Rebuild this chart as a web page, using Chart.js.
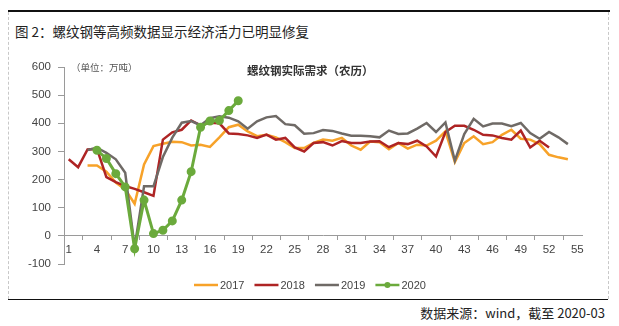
<!DOCTYPE html>
<html>
<head>
<meta charset="utf-8">
<script src="https://cdn.jsdelivr.net/npm/chart.js@4.4.1/dist/chart.umd.min.js"></script>
<style>
    body { margin: 0; width: 619px; height: 326px; background: #fff; position: relative; overflow: hidden;
           font-family: "Noto Sans CJK SC", "Liberation Sans", sans-serif; }
    .top-line { position: absolute; left: 8px; top: 10px; width: 602px; height: 0; border-top: 2px solid #111; }
    .bottom-line { position: absolute; left: 8px; top: 299px; width: 600px; height: 0; border-top: 1.5px solid #111; }
    .side { position: absolute; top: 12px; height: 287px; width: 0; border-left: 1px dashed #c8c8c8; }
    .title { position: absolute; left: 15px; top: 21px; font-size: 13.5px; color: #222; white-space: nowrap; }
    .source { position: absolute; right: 14px; top: 303px; font-size: 13px; color: #222; white-space: nowrap; }
    .unit { position: absolute; left: 71px; top: 60px; font-size: 9.5px; color: #555; white-space: nowrap; }
    .subtitle { position: absolute; left: 247px; top: 62px; font-size: 11.5px; font-weight: bold; color: #333; white-space: nowrap; }
    #wrap { position: absolute; left: 0; top: 0; width: 619px; height: 300px; }
</style>
</head>
<body>
<div class="top-line"></div>
<div class="side" style="left:8px"></div>
<div class="side" style="left:608px"></div>
<div class="bottom-line"></div>
<div class="title">图 2：螺纹钢等高频数据显示经济活力已明显修复</div>
<div class="source">数据来源：wind，截至 2020-03</div>
<div id="wrap"><canvas id="steelChart"></canvas></div>
<div class="unit">（单位：万吨）</div>
<div class="subtitle">螺纹钢实际需求（农历）</div>

<script>
    // week numbers (lunar calendar) 1..55
    const weeks = Array.from({ length: 55 }, (_, i) => String(i + 1));

    const y2017 = [null, null, 250, 250, 228, 189, 165, 114, 254, 319,
        327, 334, 333, 321, 324, 316, 350, 386, 395, 371,
        354, 359, 350, 333, 312, 312, 330, 342, 338, 348,
        321, 306, 335, 333, 308, 330, 310, 324, 321, 338,
        371, 262, 330, 354, 326, 333, 359, 377, 345, 342,
        326, 288, 279, 272, null];

    const y2018 = [272, 244, 307, 309, 209, 191, 177, 167, 155, 142,
        342, 368, 377, 410, 393, 402, 400, 364, 362, 357,
        348, 360, 342, 348, 314, 300, 330, 333, 321, 337,
        330, 330, 335, 336, 315, 330, 326, 338, 318, 282,
        369, 391, 391, 377, 359, 357, 348, 342, 374, 314,
        338, 314, null, null, null];

    const y2019 = [null, null, 305, 313, 295, 272, 224, -40, 176, 176,
        280, 349, 402, 408, 393, 418, 425, 420, 407, 381,
        407, 421, 426, 397, 393, 363, 365, 376, 373, 364,
        356, 356, 354, 350, 374, 362, 364, 381, 401, 369,
        403, 267, 362, 416, 389, 399, 399, 390, 401, 365,
        345, 369, 350, 326, null];

    const y2020 = [null, null, null, 304, 275, 221, 174, -46, 127, 8,
        20, 53, 127, 228, 386, 408, 410, 445, 480];

    const yTicks = [-100, 0, 100, 200, 300, 400, 500, 600];

    const axisColor = "#9a9a9a";
    const tickFont = { family: "'Liberation Sans', Arial, sans-serif", size: 11.5 };

    // simple legend drawn under the plot
    const legendPlugin = {
        id: "bottomLegend",
        afterDraw(chart) {
            const ctx = chart.ctx;
            let x = 194;
            const y = 285;
            ctx.save();
            ctx.font = "11px 'Liberation Sans', Arial, sans-serif";
            ctx.textBaseline = "middle";
            chart.data.datasets.forEach(ds => {
                ctx.strokeStyle = ds.borderColor;
                ctx.lineWidth = 2.5;
                ctx.beginPath();
                ctx.moveTo(x, y);
                ctx.lineTo(x + 24, y);
                ctx.stroke();
                if (ds.pointRadius > 0) {
                    ctx.fillStyle = ds.borderColor;
                    ctx.beginPath();
                    ctx.arc(x + 12, y, 3, 0, Math.PI * 2);
                    ctx.fill();
                }
                ctx.fillStyle = "#444";
                ctx.fillText(ds.label, x + 26, y + 0.5);
                x += 26 + ctx.measureText(ds.label).width + 10;
            });
            ctx.restore();
        }
    };

    const makeSet = (label, data, color, order, radius, width) => ({
        label: label,
        data: data,
        borderColor: color,
        backgroundColor: color,
        borderWidth: width,
        pointRadius: radius,
        pointHoverRadius: radius,
        tension: 0,
        spanGaps: false,
        order: order
    });

    new Chart(document.getElementById("steelChart"), {
        type: "line",
        data: {
            labels: weeks,
            datasets: [
                makeSet("2017", y2017, "#F7A229", 4, 0, 2.5),
                makeSet("2018", y2018, "#AE2424", 3, 0, 2.5),
                makeSet("2019", y2019, "#6F6A66", 2, 0, 2.5),
                makeSet("2020", y2020, "#6BAA3C", 1, 3, 3)
            ]
        },
        options: {
            responsive: true,
            maintainAspectRatio: false,
            animation: false,
            layout: { padding: { left: 0, top: 67, right: 37, bottom: 36 } },
            plugins: {
                legend: { display: false },
                tooltip: { enabled: false }
            },
            scales: {
                x: {
                    type: "category",
                    offset: true,
                    position: { y: 0 },
                    border: { display: true, color: axisColor, width: 1 },
                    grid: { offset: true, drawOnChartArea: false, drawTicks: true, tickLength: 4, color: axisColor },
                    ticks: {
                        autoSkip: false,
                        maxRotation: 0,
                        padding: 3,
                        color: "#444",
                        font: tickFont,
                        callback: (val, i) => (i % 3 === 0 ? weeks[i] : null)
                    }
                },
                y: {
                    min: yTicks[0],
                    max: yTicks[yTicks.length - 1],
                    afterFit: (scale) => { scale.width = 64; },
                    afterBuildTicks: (scale) => { scale.ticks = yTicks.map(v => ({ value: v })); },
                    border: { display: true, color: axisColor, width: 1 },
                    grid: { drawOnChartArea: false, drawTicks: true, tickLength: 6, color: axisColor },
                    ticks: { padding: 7, color: "#444", font: tickFont }
                }
            }
        },
        plugins: [legendPlugin]
    });
</script>
</body>
</html>
